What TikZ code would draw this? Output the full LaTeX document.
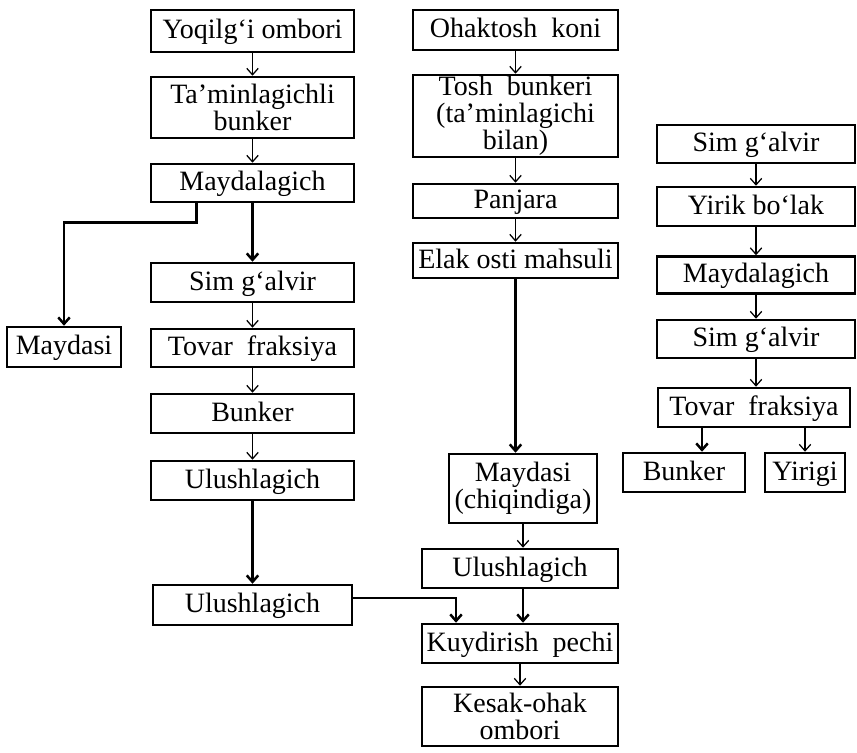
\documentclass[tikz,border=0pt]{standalone}
\usepackage{fontspec}
\setmainfont{Liberation Serif}
\usetikzlibrary{arrows.meta,calc}

\tikzset{
  bx/.style 2 args={draw, line width=1pt, inner sep=0.5pt, align=center,
    font=\fontsize{11.2}{10.8}\selectfont,
    text height=7.6pt, text depth=1.6pt,
    minimum width=#1*0.4pt, minimum height=#2*0.4pt},
  tall/.style={text height={}, text depth={}},
  ln/.style={->, line width=0.5pt},
  lnt/.style={->, line width=1pt},
}

\begin{document}
\begin{tikzpicture}[x=0.4pt, y=-0.4pt, >={Straight Barb[length=2.6pt,width=4.6pt]}]
\useasboundingbox (0,0) rectangle (857,752);

% yoqilg'i
\node[bx={203}{42}] (yoq) at (252.5,31) {Yoqilg‘i ombori};
\node[bx={203}{61}, tall] (tam) at (252.5,107.5) {Ta’minlagichli\\bunker};
\node[bx={203}{38}] (may) at (252.5,183) {Maydalagich};
\node[bx={114}{40}] (mayd) at (64,347) {Maydasi};
\node[bx={203}{39}] (sim) at (252.5,282.5) {Sim g‘alvir};
\node[bx={203}{38}] (tov) at (252.5,348) {Tovar\enspace fraksiya};
\node[bx={203}{39}] (bun) at (252.5,413.5) {Bunker};
\node[bx={203}{39}] (ulu) at (252.5,480.5) {Ulushlagich};
\node[bx={199}{40}] (uluB) at (252.5,605) {Ulushlagich};

% ohaktosh
\node[bx={205}{40}] (ohak) at (515.5,30) {Ohaktosh\enspace koni};
\node[bx={205}{82}, tall] (tosh) at (515.5,116) {Tosh\enspace bunkeri\\(ta’minlagichi\\bilan)};
\node[bx={205}{34}] (panj) at (515.5,201) {Panjara};
\node[bx={205}{35}] (elak) at (515.5,260.5) {Elak osti mahsuli};
\node[bx={148}{69}, tall] (mch) at (523,488.5) {Maydasi\\(chiqindiga)};
\node[bx={196}{39}] (uluC) at (520,568.5) {Ulushlagich};
\node[bx={196}{39}] (kuy) at (520,643.5) {Kuydirish\enspace pechi};
\node[bx={196}{59}, tall] (kes) at (520,716.5) {Kesak-ohak\\ombori};

% sim g'alvir (o'ng)
\node[bx={198}{38}] (simR) at (756,144) {Sim g‘alvir};
\node[bx={198}{39}] (yir) at (756,206.5) {Yirik bo‘lak};
\node[bx={198}{37}] (mayR) at (756,275) {Maydalagich};
\node[bx={198}{38}] (simS) at (756,339) {Sim g‘alvir};
\node[bx={192}{39}] (tovR) at (754,407.5) {Tovar\enspace fraksiya};
\node[bx={122}{39}] (bunR) at (684,472.5) {Bunker};
\node[bx={80}{39}] (yirg) at (805,472.5) {Yirigi};

\draw[ln] (yoq) -- (tam);
\draw[ln] (tam) -- (may);
\draw[lnt] (may) -- (sim);
\draw[lnt] (may.south) ++(-56,0) -- ++(0,19) -| (mayd.north);
\draw[ln] (sim) -- (tov);
\draw[ln] (tov) -- (bun);
\draw[ln] (bun) -- (ulu);
\draw[lnt] (ulu) -- (uluB);
\draw[lnt] ([yshift=2.8pt]uluB.east) -| ($(kuy.north)+(-64,0)$);

\draw[ln] (ohak) -- (tosh);
\draw[ln] (tosh) -- (panj);
\draw[ln] (panj) -- (elak);
\draw[lnt] (elak.south) -- (elak.south |- mch.north);
\draw[ln] (mch) -- (mch |- uluC.north);
\draw[lnt] (uluC.south -| mch) -- (mch |- kuy.north);
\draw[ln] (kuy) -- (kes);

\draw[ln] (simR) -- (yir);
\draw[ln] (yir) -- (mayR);
\draw[ln] (mayR) -- (simS);
\draw[ln] (simS) -- (simS |- tovR.north);
\draw[lnt] ($(tovR.south)+(-52,0)$) -- ($(bunR.north)+(18,0)$);
\draw[ln] (tovR.south -| yirg) -- (yirg);
\end{tikzpicture}
\end{document}
